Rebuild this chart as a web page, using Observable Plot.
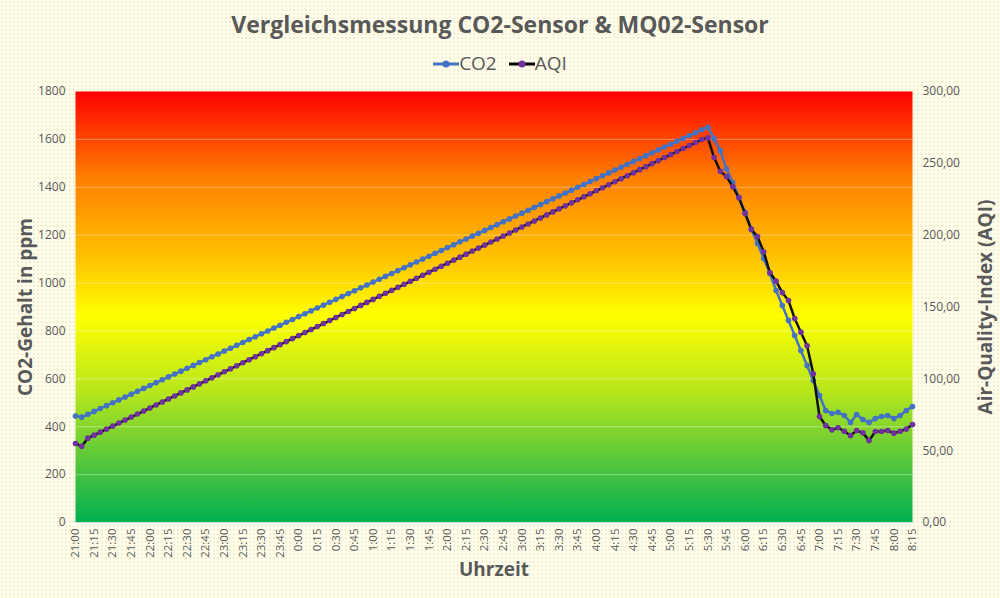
<!DOCTYPE html>
<html><head><meta charset="utf-8">
<script src="https://cdn.jsdelivr.net/npm/d3@7"></script>
<script src="https://cdn.jsdelivr.net/npm/@observablehq/plot@0.6"></script>
<style>
body{margin:0;width:1000px;height:598px;overflow:hidden;font-family:"Open Sans",Calibri,sans-serif;
background-color:#fffef0;background-image:radial-gradient(#f3efc0 0.7px,transparent 0.8px);background-size:4px 4px;}
#title{position:absolute;top:8px;left:0;width:1000px;text-align:center;font-size:23px;font-weight:bold;color:#595959;}
#legend{position:absolute;top:50px;left:0;width:1000px;text-align:center;font-size:19px;color:#595959;}
#legend span{margin:0 6px;}
#chart{position:absolute;top:80px;left:0;}
</style></head><body>
<div id="title">Vergleichsmessung CO2-Sensor &amp; MQ02-Sensor</div>
<div id="legend"><span><svg width="26" height="12"><line x1="0" y1="6" x2="26" y2="6" stroke="#4472c4" stroke-width="3"/><circle cx="13" cy="6" r="3.5" fill="#4472c4"/></svg>CO2</span><span><svg width="26" height="12"><line x1="0" y1="6" x2="26" y2="6" stroke="#000" stroke-width="3"/><circle cx="13" cy="6" r="3.5" fill="#7030a0"/></svg>AQI</span></div>
<div id="chart"></div>
<script>
const co2 = [445,440,452,464,476,488,500,512,524,536,548,560,572,584,596,608,620,632,644,656,668,680,692,704,716,728,740,752,764,776,788,800,812,824,836,848,860,872,884,896,908,920,932,944,956,968,980,992,1004,1016,1028,1040,1052,1064,1076,1088,1100,1112,1124,1136,1148,1160,1172,1184,1196,1208,1220,1232,1244,1256,1268,1280,1292,1304,1316,1328,1340,1352,1364,1376,1388,1400,1412,1424,1436,1448,1460,1472,1484,1496,1508,1520,1532,1544,1556,1568,1580,1592,1604,1616,1628,1640,
1651,1602,1553,1477,1421,1358,1296,1226,1165,1103,1040,969,906,844,781,718,656,593,530,468,455,460,447,418,451,430,418,434,443,447,434,447,468,484];
const aqi = [55,53,58.7,60.8,62.9,65.0,67.1,69.2,71.3,73.4,75.5,77.6,79.7,81.8,83.9,86.0,88.1,90.2,92.3,94.4,96.5,98.6,100.7,102.8,104.9,107.0,109.1,111.2,113.3,115.4,117.5,119.6,121.7,123.8,125.9,128.0,130.1,132.2,134.3,136.4,138.5,140.6,142.7,144.8,146.9,149.0,151.1,153.2,155.3,157.4,159.5,161.6,163.7,165.8,167.9,170.0,172.1,174.2,176.3,178.4,180.5,182.6,184.7,186.8,188.9,191.0,193.1,195.2,197.3,199.4,201.5,203.6,205.7,207.8,209.9,212.0,214.1,216.2,218.3,220.4,222.5,224.6,226.7,228.8,230.9,233.0,235.1,237.2,239.3,241.4,243.5,245.6,247.7,249.8,251.9,254.0,256.1,258.2,260.3,262.4,264.5,266.6,
267.7,254,244.5,240.8,233.8,226,215,204,199,188.5,174,168,160,154.5,142,132.5,123,103.5,73.8,67.5,64.5,66,63.5,60.5,64,62.4,57,63.3,63.3,64,62.2,63.5,65,68.2];
const timeLabels = ["21:00","21:15","21:30","21:45","22:00","22:15","22:30","22:45","23:00","23:15","23:30","23:45","0:00","0:15","0:30","0:45","1:00","1:15","1:30","1:45","2:00","2:15","2:30","2:45","3:00","3:15","3:30","3:45","4:00","4:15","4:30","4:45","5:00","5:15","5:30","5:45","6:00","6:15","6:30","6:45","7:00","7:15","7:30","7:45","8:00","8:15"];
const leftTicks = [0,200,400,600,800,1000,1200,1400,1600,1800];
const rightTicks = [0,50,100,150,200,250,300];

const co2Data = co2.map((v,i)=>({i,v}));
const aqiData = aqi.map((v,i)=>({i,v:v*6}));
const tickIdx = timeLabels.map((_,k)=>k*3);
const grey = "#595959";

const plot = Plot.plot({
  width:1000, height:518,
  marginTop:11, marginBottom:76, marginLeft:75, marginRight:88,
  style:{fontFamily:"'Open Sans',sans-serif", fontSize:"11px", color:grey, background:"transparent"},
  x:{domain:[0,135]},
  y:{domain:[0,1800]},
  marks:[
    Plot.frame({fill:"url(#bg)", stroke:null}),
    Plot.ruleY(leftTicks.slice(1,-1),{stroke:"white",strokeOpacity:0.35}),
    Plot.axisY({ticks:leftTicks,tickSize:0,tickPadding:10,label:null,fontSize:12,tickFormat:d=>String(d)}),
    Plot.axisY({anchor:"right",ticks:rightTicks.map(d=>d*6),tickSize:0,tickPadding:10,label:null,fontSize:12,
      tickFormat:d=>(d/6).toFixed(2).replace(".",",")}),
    Plot.axisX({ticks:tickIdx,tickSize:0,tickPadding:6,tickRotate:-90,label:null,fontSize:11.5,
      tickFormat:d=>timeLabels[d/3]}),
    Plot.ruleY([0],{stroke:"#d9d9d9"}),
    Plot.line(co2Data,{x:"i",y:"v",stroke:"#4472c4",strokeWidth:2.5}),
    Plot.dot(co2Data,{x:"i",y:"v",fill:"#4472c4",r:2.8}),
    Plot.line(aqiData,{x:"i",y:"v",stroke:"#111",strokeWidth:2.5}),
    Plot.dot(aqiData,{x:"i",y:"v",fill:"#7030a0",r:2.8}),
    Plot.text(["CO2-Gehalt in ppm"],{frameAnchor:"left",dx:-50,rotate:-90,textAnchor:"middle",fontSize:19,fontWeight:"bold",fill:grey}),
    Plot.text(["Air-Quality-Index (AQI)"],{frameAnchor:"right",dx:73,rotate:-90,textAnchor:"middle",fontSize:19,fontWeight:"bold",fill:grey}),
    Plot.text(["Uhrzeit"],{frameAnchor:"bottom",dy:53,fontSize:19,fontWeight:"bold",fill:grey})
  ]
});
const defs = d3.select(plot).insert("defs",":first-child");
const g = defs.append("linearGradient").attr("id","bg").attr("x1",0).attr("y1",0).attr("x2",0).attr("y2",1);
[[0,"#ff0000"],[0.2,"#ff7f00"],[0.38,"#ffc000"],[0.52,"#ffff00"],[0.7,"#b5e61d"],[0.85,"#5cc83a"],[1,"#00b050"]]
  .forEach(([o,c])=>g.append("stop").attr("offset",o).attr("stop-color",c));
document.getElementById("chart").appendChild(plot);
</script></body></html>
